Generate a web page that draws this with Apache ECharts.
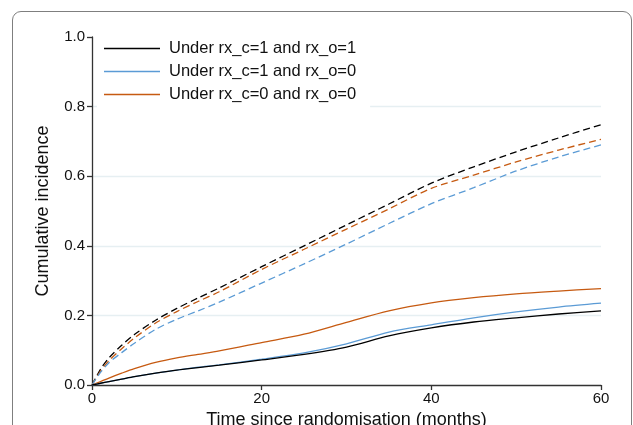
<!DOCTYPE html>
<html>
<head>
<meta charset="utf-8">
<script src="https://cdn.jsdelivr.net/npm/echarts@6/dist/echarts.min.js"></script>
<style>
  html, body { margin: 0; padding: 0; overflow: hidden; background: #fff; }
  #frame {
    position: absolute; left: 12px; top: 11px; width: 618px; height: 520px;
    border: 1.5px solid #7f7f7f; border-radius: 9px;
  }
  #main { position: absolute; left: 0; top: 0; width: 633px; height: 425px; }
</style>
</head>
<body>
<div id="frame"></div>
<div id="main"></div>
<script>
// months since randomisation
const months = [0, 1, 2, 3.5, 5, 7.5, 10, 12.5, 15, 20, 25, 30, 35, 40, 45, 50, 55, 60];

// solid curves (legend entries)
const rx11 = [0, 0.005, 0.010, 0.017, 0.024, 0.034, 0.043, 0.050, 0.057, 0.072, 0.088, 0.109, 0.141, 0.164, 0.181, 0.193, 0.204, 0.213];
const rx10 = [0, 0.005, 0.010, 0.017, 0.024, 0.034, 0.043, 0.051, 0.058, 0.074, 0.092, 0.118, 0.152, 0.173, 0.193, 0.210, 0.224, 0.235];
const rx00 = [0, 0.010, 0.020, 0.034, 0.047, 0.065, 0.078, 0.088, 0.098, 0.122, 0.146, 0.180, 0.213, 0.236, 0.251, 0.262, 0.270, 0.277];

// dashed curves
const rx11d = [0, 0.045, 0.078, 0.114, 0.145, 0.186, 0.220, 0.250, 0.279, 0.340, 0.400, 0.460, 0.520, 0.580, 0.627, 0.670, 0.710, 0.748];
const rx10d = [0, 0.036, 0.064, 0.093, 0.120, 0.160, 0.189, 0.213, 0.238, 0.293, 0.348, 0.405, 0.464, 0.521, 0.567, 0.615, 0.655, 0.690];
const rx00d = [0, 0.040, 0.070, 0.104, 0.135, 0.178, 0.211, 0.240, 0.268, 0.332, 0.390, 0.448, 0.506, 0.565, 0.603, 0.641, 0.675, 0.706];

const legendNames = ['Under rx_c=1 and rx_o=1', 'Under rx_c=1 and rx_o=0', 'Under rx_c=0 and rx_o=0'];
const colors = ['#000000', '#5b9bd5', '#c65a11'];

const pairs = arr => months.map((m, i) => [m, arr[i]]);

function line(name, arr, color, dashed) {
  return {
    name: name,
    type: 'line',
    data: pairs(arr),
    smooth: 0.3,
    symbol: 'none',
    showSymbol: false,
    z: dashed ? 2 : 3,
    lineStyle: { color: color, width: 1.3, type: dashed ? [7, 4] : 'solid' },
    itemStyle: { color: color }
  };
}

const myChart = echarts.init(document.getElementById('main'));
const font = 'Liberation Sans, Arial, sans-serif';

const option = {
  animation: false,
  textStyle: { fontFamily: font },
  grid: { left: 92, right: 32, top: 37, bottom: 40, outerBoundsMode: 'none', containLabel: false },
  legend: {
    data: legendNames.map((n, i) => ({ name: n, icon: 'rect', itemStyle: { color: colors[i] } })),
    orient: 'vertical',
    left: 97,
    top: 32,
    padding: [8, 14, 12, 7],
    backgroundColor: '#ffffff',
    itemWidth: 56,
    itemHeight: 1.4,
    itemGap: 6,
    textStyle: { fontSize: 16.5, lineHeight: 16.5, color: '#111', fontFamily: font, padding: [0, 0, 0, 4] }
  },
  xAxis: {
    type: 'value',
    min: 0, max: 60, interval: 20,
    name: 'Time since randomisation (months)',
    nameLocation: 'middle',
    nameGap: 19,
    nameTextStyle: { fontSize: 18, color: '#111', fontFamily: font },
    axisLine: { lineStyle: { color: '#333', width: 1.3 } },
    axisTick: { show: true, length: 5, lineStyle: { color: '#333', width: 1.3 } },
    axisLabel: { fontSize: 15, color: '#111', margin: 6 },
    splitLine: { show: false }
  },
  yAxis: {
    type: 'value',
    min: 0, max: 1, interval: 0.2,
    name: 'Cumulative incidence',
    nameLocation: 'middle',
    nameGap: 40,
    nameTextStyle: { fontSize: 18, color: '#111', fontFamily: font },
    axisLine: { show: true, lineStyle: { color: '#333', width: 1.3 } },
    axisTick: { show: true, length: 5, lineStyle: { color: '#333', width: 1.3 } },
    axisLabel: { fontSize: 15, color: '#111', margin: 7, formatter: v => v.toFixed(1) },
    splitLine: { show: true, showMinLine: false, showMaxLine: false, lineStyle: { color: '#e6eff2', width: 1.3 } }
  },
  series: [
    line('dash11', rx11d, colors[0], true),
    line('dash00', rx00d, colors[2], true),
    line('dash10', rx10d, colors[1], true),
    line(legendNames[2], rx00, colors[2], false),
    line(legendNames[1], rx10, colors[1], false),
    line(legendNames[0], rx11, colors[0], false)
  ]
};

myChart.setOption(option);
</script>
</body>
</html>
